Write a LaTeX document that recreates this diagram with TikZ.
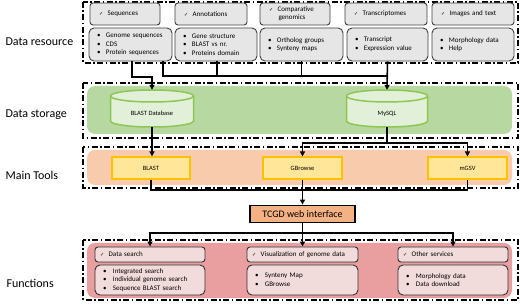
\documentclass[tikz,border=0pt]{standalone}
\usepackage{fontspec}
\setmainfont{Carlito}
\newfontfamily\symfont{DejaVu Sans}
\usetikzlibrary{arrows.meta}
\definecolor{resgrey}{RGB}{231,230,230}
\definecolor{storegreen}{RGB}{184,216,162}
\definecolor{cylfill}{RGB}{226,240,217}
\definecolor{cyldraw}{RGB}{141,198,80}
\definecolor{toolorange}{RGB}{248,203,173}
\definecolor{toolfill}{RGB}{255,230,153}
\definecolor{tooldraw}{RGB}{255,192,0}
\definecolor{webfill}{RGB}{244,177,131}
\definecolor{funcred}{RGB}{233,158,160}
\definecolor{funcfill}{RGB}{242,220,219}
\newcommand{\tick}{{\symfont\fontsize{5}{6}\selectfont ✓}\hspace{4.5pt}}
\newcommand{\ritem}[1]{\mbox{\makebox[9pt][l]{\textbullet}#1}}
\newcommand{\fitem}[1]{\mbox{\makebox[10pt][l]{\textbullet}#1}}
\newcommand{\dbcyl}[4]{%
  \draw[cyl] (#1-#3/2,#2-#4/2+6) -- (#1-#3/2,#2+#4/2-6)
    arc[start angle=180,end angle=360,x radius=#3/2*1pt,y radius=6pt]
    -- (#1+#3/2,#2-#4/2+6)
    arc[start angle=0,end angle=180,x radius=#3/2*1pt,y radius=6pt] -- cycle;
  \draw[cyl] (#1-#3/2,#2-#4/2+6)
    arc[start angle=180,end angle=360,x radius=#3/2*1pt,y radius=6pt];}
\begin{document}
\begin{tikzpicture}[x=1pt,y=-1pt,
  layer/.style={draw,line width=1.3pt,dash pattern=on 6pt off 2.5pt on 1.5pt off 2.5pt},
  band/.style={rounded corners=8pt},
  reshead/.style={draw=black!75,fill=resgrey,rounded corners=3pt,line width=0.9pt,
    minimum height=22pt,inner ysep=0pt,inner xsep=9pt,align=left,font=\fontsize{7}{8}\selectfont},
  resbody/.style={draw=black!75,fill=resgrey,rounded corners=5pt,line width=0.9pt,
    minimum height=33pt,inner ysep=0pt,inner xsep=8pt,align=left,font=\fontsize{7}{8.7}\selectfont},
  cyl/.style={draw=cyldraw,fill=cylfill,line width=1.5pt},
  store/.style={minimum height=37pt,inner sep=0pt},
  storetext/.style={inner sep=0pt,font=\fontsize{6.5}{7.5}\selectfont},
  tool/.style={draw=tooldraw,fill=toolfill,line width=1.1pt,minimum width=78pt,
    minimum height=22pt,font=\fontsize{6.5}{7.5}\selectfont},
  web/.style={draw,fill=webfill,line width=1.8pt,minimum width=105pt,minimum height=17pt,
    inner sep=0pt,font=\fontsize{10}{12}\selectfont},
  funchead/.style={draw=black!80,fill=funcfill,rounded corners=3pt,line width=0.9pt,
    minimum height=15pt,inner ysep=0pt,inner xsep=5pt,align=left,font=\fontsize{7}{8}\selectfont},
  funcbody/.style={draw=black!80,fill=funcfill,rounded corners=5pt,line width=0.9pt,
    minimum height=30pt,inner ysep=0pt,inner xsep=8pt,align=left,font=\fontsize{7}{8.5}\selectfont},
  lbl/.style={anchor=west,font=\fontsize{12}{14}\selectfont},
  conn/.style={line width=1.6pt},
  arr/.style={conn,-{Triangle[length=5pt,width=5pt]}}]
\useasboundingbox (0,0) rectangle (520,307);

\node[lbl] (lres) at (2,42) {Data resource};
\node[lbl] (lsto) at (2,115) {Data storage};
\node[lbl] (ltoo) at (2,175) {Main Tools};
\node[lbl] (lfun) at (3,283) {Functions};

\draw[layer] (83,2) rectangle (518,63);
\node[reshead,text width=52pt] (seqH) at (125,14) {\tick Sequences};
\node[reshead,text width=54pt] (annH) at (211,14) {\tick Annotations};
\node[reshead,text width=52pt] (cmpH) at (295,14) {\tick Comparative\\\hspace{9.5pt}genomics};
\node[reshead,text width=64pt] (trnH) at (386,14) {\tick Transcriptomes};
\node[reshead,text width=64pt] (imgH) at (473,14) {\tick Images and text};
\node[resbody,text width=67pt] (seqB) at (130.5,44.5) {\ritem{Genome sequences}\\\ritem{CDS}\\\ritem{Protein sequences}};
\node[resbody,text width=66pt] (annB) at (216,44.5) {\ritem{Gene structure}\\\ritem{BLAST vs nr.}\\\ritem{Proteins domain}};
\node[resbody,text width=67pt] (cmpB) at (301.5,44.5) {\ritem{Ortholog groups}\\\ritem{Synteny maps}};
\node[resbody,text width=65pt] (trnB) at (387.5,44.5) {\ritem{Transcript}\\\ritem{Expression value}};
\node[resbody,text width=66pt] (imgB) at (473,44.5) {\ritem{Morphology data}\\\ritem{Help}};

\draw[layer] (83,83) rectangle (518,138);
\fill[storegreen,band] (87,86) rectangle (512,134);
\dbcyl{152}{108.5}{83}{37}
\dbcyl{387}{108.5}{81}{37}
\node[store,minimum width=83pt] (blastdb) at (152,108.5) {};
\node[store,minimum width=81pt] (mysql) at (387,108.5) {};
\node[storetext] (blastdbT) at ([yshift=-5pt]blastdb.center) {BLAST Database};
\node[storetext] (mysqlT) at ([yshift=-5pt]mysql.center) {MySQL};

\draw[layer] (83,147) rectangle (518,188);
\fill[toolorange,band] (87,150) rectangle (512,185);
\node[tool] (blast) at (151,168) {BLAST};
\node[tool,minimum width=79pt] (gbrowse) at (302.5,168) {GBrowse};
\node[tool,minimum width=79pt] (mgsv) at (467.5,168) {mGSV};

\node[web] (tcgd) at (302.5,214) {TCGD web interface};

\draw[layer] (83,240) rectangle (518,300);
\fill[funcred,band] (87,243) rectangle (512,298);
\node[funchead,text width=100pt] (dsH) at (150,254.5) {\tick Data search};
\node[funchead,text width=101pt] (vizH) at (302.5,254.5) {\tick Visualization of genome data};
\node[funchead,text width=100pt] (othH) at (453,254.5) {\tick Other services};
\node[funcbody,text width=94pt] (dsB) at (150,280) {\fitem{Integrated search}\\\fitem{Individual genome search}\\\fitem{Sequence BLAST search}};
\node[funcbody,text width=95pt] (vizB) at (302.5,280) {\fitem{Synteny Map}\\\fitem{GBrowse}};
\node[funcbody,text width=94pt] (othB) at (453,280) {\fitem{Morphology data}\\\fitem{Data download}};

\coordinate (rbus) at (0,76);
\coordinate (tbus) at (0,143);
\coordinate (wbus) at (0,190);
\coordinate (fbus) at (0,233);

\draw[arr] ([xshift=1.5pt]seqB.south) |- ([yshift=-1pt]blastdb.north |- rbus) -- (blastdb.north);
\draw[conn] ([xshift=32.5pt]seqB.south) |- (trnB.south |- rbus);
\draw[conn] ([xshift=1pt]annB.south) -- ([xshift=1pt]annB.south |- rbus);
\draw[conn] (cmpB.south) -- (cmpB.south |- rbus);
\draw[arr] (trnB.south) -- (mysql.north);

\draw[arr] (blastdb.south) -- (blastdb.south |- blast.north);
\draw[conn] (mysql.south) -- (mysql.south |- tbus);
\draw[arr] (mysql.south |- tbus) -| (gbrowse.north);
\draw[arr] (mysql.south |- tbus) -| (mgsv.north);

\draw[conn] (blast.south) |- (gbrowse.south |- wbus);
\draw[conn] (mgsv.south) |- (gbrowse.south |- wbus);
\draw[arr] (gbrowse.south) -- (tcgd.north);

\draw[arr] (tcgd.south) -- (vizH.north);
\draw[arr] (tcgd.south |- fbus) -| (dsH.north);
\draw[arr] (tcgd.south |- fbus) -| (othH.north);
\end{tikzpicture}
\end{document}
